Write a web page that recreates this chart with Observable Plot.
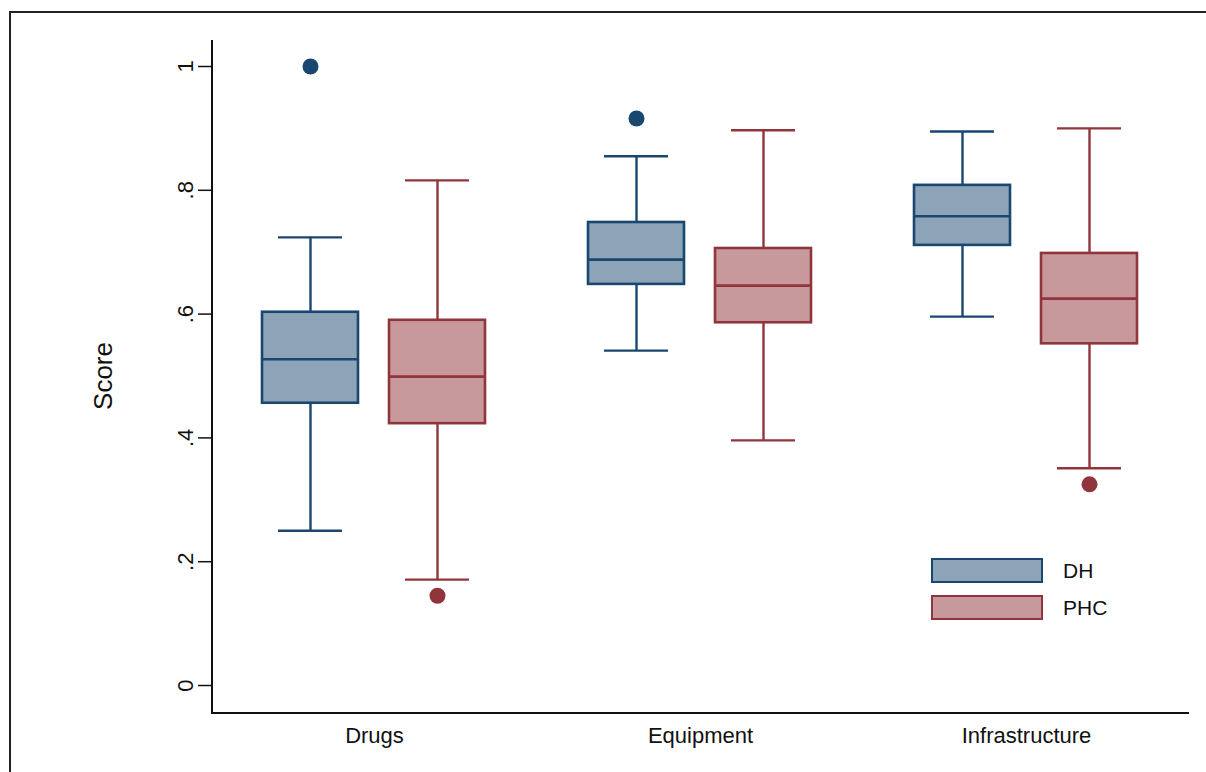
<!DOCTYPE html>
<html>
<head>
<meta charset="utf-8">
<script src="https://cdn.jsdelivr.net/npm/d3@7"></script>
<script src="https://cdn.jsdelivr.net/npm/@observablehq/plot@0.6"></script>
<style>
  html, body { margin: 0; padding: 0; background: #fff; overflow: hidden; }
  #wrap { position: relative; width: 1206px; height: 772px; font-family: "Liberation Sans", Arial, sans-serif; }
  #border { position: absolute; left: 9px; top: 11px; width: 1400px; height: 1000px;
            border-top: 2px solid #222; border-left: 2px solid #222; pointer-events: none; }
  #chart { position: absolute; left: 0; top: 0; }
  #ytitle { position: absolute; left: 103px; top: 376px; font-size: 26px; color: #111;
            transform: translate(-50%, -50%) rotate(-90deg); white-space: nowrap; }
  .legend { position: absolute; left: 931px; top: 552px; font-size: 21px; color: #111; }
  .legend .row { display: flex; align-items: center; height: 37px; }
  .legend .swatch { width: 108px; height: 21px; box-sizing: content-box; margin-right: 20px; }
</style>
</head>
<body>
<div id="wrap">
  <div id="chart"></div>
  <div id="border"></div>
  <div id="ytitle">Score</div>
  <div class="legend" id="legend"></div>
</div>
<script>
// Facility scores by category: box statistics for district hospitals (DH)
// and primary health centres (PHC).
const categories = ["Drugs", "Equipment", "Infrastructure"];
const groups = ["DH", "PHC"];

// One entry per box, in order: Drugs DH, Drugs PHC, Equipment DH,
// Equipment PHC, Infrastructure DH, Infrastructure PHC.
const boxCategory = ["Drugs", "Drugs", "Equipment", "Equipment", "Infrastructure", "Infrastructure"];
const boxGroup    = ["DH", "PHC", "DH", "PHC", "DH", "PHC"];
const whiskerLow  = [0.250, 0.171, 0.541, 0.396, 0.596, 0.351];
const quartile1   = [0.456, 0.423, 0.648, 0.586, 0.711, 0.552];
const median      = [0.527, 0.499, 0.688, 0.646, 0.758, 0.625];
const quartile3   = [0.603, 0.590, 0.748, 0.706, 0.808, 0.698];
const whiskerHigh = [0.724, 0.816, 0.855, 0.897, 0.895, 0.900];

// Outside values
const outlierCategory = ["Drugs", "Drugs", "Equipment", "Infrastructure"];
const outlierGroup    = ["DH", "PHC", "DH", "PHC"];
const outlierValue    = [1.000, 0.145, 0.916, 0.325];

const yTicks = [0, 0.2, 0.4, 0.6, 0.8, 1];
const yTitle = "Score";

const strokeOf = {DH: "#1a476f", PHC: "#90353b"};
const fillOf   = {DH: "#8da3b7", PHC: "#c8999c"};

const boxes = boxCategory.map((c, i) => ({
  cat: c, grp: boxGroup[i],
  lo: whiskerLow[i], q1: quartile1[i], med: median[i], q3: quartile3[i], hi: whiskerHigh[i]
}));
const outliers = outlierValue.map((v, i) => ({cat: outlierCategory[i], grp: outlierGroup[i], v}));

const fmt = d => d === 0 ? "0" : String(d).replace(/^0/, "");
const stroke = d => strokeOf[d.grp];
const fill = d => fillOf[d.grp];
const yDomain = [-0.0436, 1.042];

const chart = Plot.plot({
  width: 1206,
  height: 772,
  marginLeft: 211,
  marginRight: 17,
  marginTop: 40,
  marginBottom: 60,
  style: {fontFamily: "Liberation Sans, Arial, sans-serif", color: "#111", background: "#fff"},
  fx: {domain: categories, padding: 0, label: null},
  x: {domain: groups, paddingInner: 0.242, paddingOuter: 0.395, axis: null},
  y: {domain: yDomain, label: null},
  color: {type: "identity"},
  marks: [
    // x axis line, one segment per facet; crisp edges so the segments join cleanly
    Plot.ruleY([yDomain[0]], {stroke: "#111", strokeWidth: 2, shapeRendering: "crispEdges"}),
    Plot.frame({anchor: "left", facetAnchor: "left", stroke: "#111", strokeWidth: 2, shapeRendering: "crispEdges"}),
    Plot.axisY({
      ticks: yTicks, tickFormat: fmt, tickRotate: -90, tickSize: 13, tickPadding: 6,
      fontSize: 22, strokeWidth: 1.5, label: null
    }),
    Plot.axisFx({anchor: "bottom", tickSize: 0, tickPadding: 15, fontSize: 22, label: null}),
    // whiskers
    Plot.ruleX(boxes, {fx: "cat", x: "grp", y1: "lo", y2: "q1", stroke, strokeWidth: 2.4}),
    Plot.ruleX(boxes, {fx: "cat", x: "grp", y1: "q3", y2: "hi", stroke, strokeWidth: 2.4}),
    // whisker caps
    Plot.tickY(boxes, {fx: "cat", x: "grp", y: "lo", stroke, strokeWidth: 2.4, inset: 16}),
    Plot.tickY(boxes, {fx: "cat", x: "grp", y: "hi", stroke, strokeWidth: 2.4, inset: 16}),
    // interquartile boxes
    Plot.barY(boxes, {fx: "cat", x: "grp", y1: "q1", y2: "q3", fill, stroke, strokeWidth: 2.6}),
    // medians
    Plot.tickY(boxes, {fx: "cat", x: "grp", y: "med", stroke, strokeWidth: 2.6}),
    // outside values
    Plot.dot(outliers, {fx: "cat", x: "grp", y: "v", r: 8, fill: stroke, stroke: "none"})
  ]
});
document.getElementById("chart").append(chart);
document.getElementById("ytitle").textContent = yTitle;

// Legend
const legend = document.getElementById("legend");
for (const g of groups) {
  const row = document.createElement("div");
  row.className = "row";
  const sw = document.createElement("div");
  sw.className = "swatch";
  sw.style.background = fillOf[g];
  sw.style.border = `2.5px solid ${strokeOf[g]}`;
  const label = document.createElement("span");
  label.textContent = g;
  row.append(sw, label);
  legend.append(row);
}
</script>
</body>
</html>
